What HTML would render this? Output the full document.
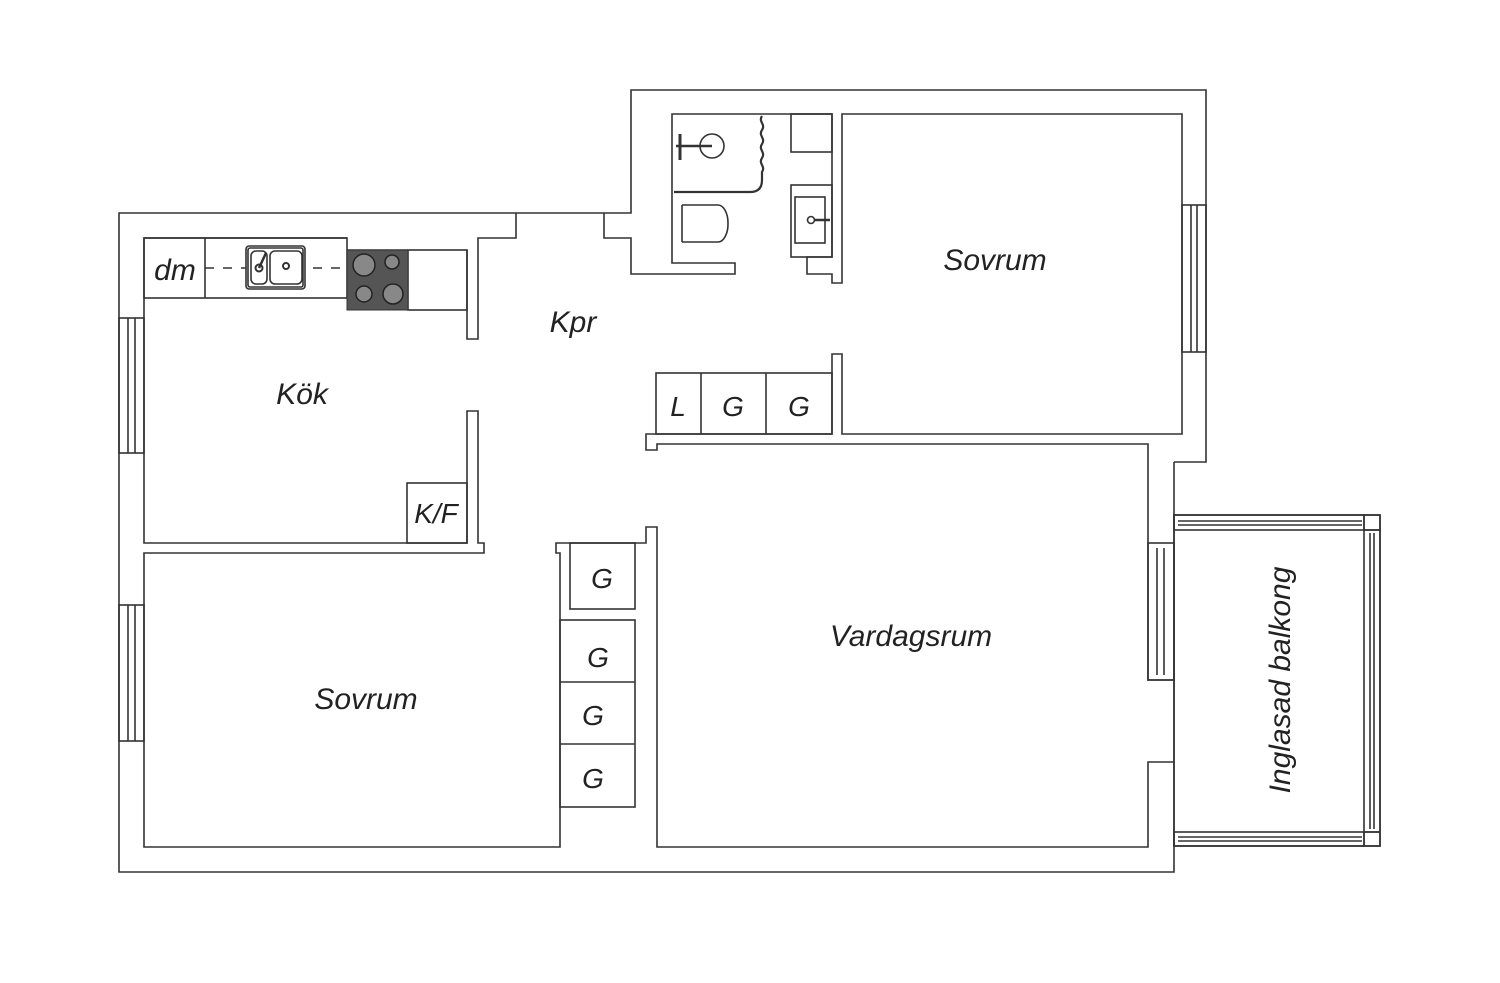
<!DOCTYPE html>
<html><head><meta charset="utf-8"><style>
html,body{margin:0;padding:0;background:#fff;}
svg{display:block}
text{font-family:"Liberation Sans",sans-serif;font-style:italic;fill:#222;}
</style></head><body>
<svg width="1500" height="983" viewBox="0 0 1500 983" xmlns="http://www.w3.org/2000/svg">
<g fill="none" stroke="#333" stroke-width="1.6">
<!-- outer -->
<path d="M604,213 H119 V872 H1174 V515 M1174,462 H1206 V90 H631 V213 H604 V238 H631 V274 H735 V263 H672 V114 H832 V257 H807 V274 H832 V283 H842 V114 H1182 V434 H842 V354 H832 V434 H646 V450 H657 V444 H1148 V680 H1174 M1174,462 V515"/>
<path d="M516,213 V238 H478 V339 H467 V250"/>
<path d="M1174,762 H1148 V847 H657 V527 H646 V543 H556 V553 H560 V847 H144 V553 H484 V543 H478 V411 H467 V543 H144 V238 H347"/>
<!-- windows -->
<rect x="119" y="318" width="25" height="135"/><line x1="128" y1="318" x2="128" y2="453"/><line x1="135" y1="318" x2="135" y2="453"/>
<rect x="119" y="605" width="25" height="136"/><line x1="128" y1="605" x2="128" y2="741"/><line x1="135" y1="605" x2="135" y2="741"/>
<rect x="1182" y="205" width="24" height="147"/><line x1="1191" y1="205" x2="1191" y2="352"/><line x1="1197" y1="205" x2="1197" y2="352"/>
<rect x="1148" y="543" width="26" height="137"/><line x1="1157" y1="548" x2="1157" y2="675"/><line x1="1164" y1="548" x2="1164" y2="675"/>
<!-- balcony -->
<rect x="1174" y="515" width="206" height="331"/>
<rect x="1174" y="515" width="190" height="15"/><line x1="1178" y1="521" x2="1362" y2="521"/><line x1="1178" y1="525" x2="1362" y2="525"/>
<rect x="1174" y="832" width="190" height="14"/><line x1="1178" y1="837" x2="1362" y2="837"/><line x1="1178" y1="841" x2="1362" y2="841"/>
<rect x="1364" y="515" width="16" height="15"/><rect x="1364" y="832" width="16" height="14"/>
<rect x="1364" y="530" width="16" height="302"/><line x1="1370" y1="533" x2="1370" y2="829"/><line x1="1374" y1="533" x2="1374" y2="829"/>
<!-- kitchen -->
<rect x="144" y="238" width="203" height="60"/><line x1="205" y1="238" x2="205" y2="298"/>
<rect x="408" y="250" width="59" height="60"/>
<line x1="347" y1="250" x2="408" y2="250"/>
<rect x="407" y="483" width="60" height="60"/>
<line x1="205" y1="268" x2="347" y2="268" stroke-dasharray="9,9"/>
<rect x="246" y="246" width="59" height="43" rx="3" fill="#fff"/><rect x="248" y="248" width="55" height="39" rx="2"/>
<rect x="251" y="251" width="16" height="33" rx="5"/><rect x="270" y="251" width="32" height="33" rx="5"/>
<circle cx="259" cy="268" r="3.5" stroke-width="2"/><circle cx="286" cy="266" r="3" stroke-width="2"/>
<line x1="259" y1="268" x2="266" y2="253" stroke-width="2.5"/>
<!-- closets -->
<rect x="656" y="373" width="176" height="61"/><line x1="701" y1="373" x2="701" y2="434"/><line x1="766" y1="373" x2="766" y2="434"/>
<rect x="570" y="543" width="65" height="66"/>
<rect x="560" y="620" width="75" height="187"/><line x1="560" y1="682" x2="635" y2="682"/><line x1="560" y1="744" x2="635" y2="744"/>
<!-- bathroom -->
<rect x="791" y="114" width="41" height="38"/>
<rect x="791" y="185" width="41" height="72"/><rect x="795" y="197" width="30" height="46"/>
<circle cx="811" cy="220" r="3.5"/><line x1="814" y1="220" x2="830" y2="220" stroke-width="2.5"/>
<path d="M682,205 H718 A10,18 0 0 1 728,223 A10,18 0 0 1 718,242 H682" />
<line x1="682" y1="205" x2="682" y2="242"/>
<circle cx="712" cy="146" r="12"/>
<line x1="676" y1="146" x2="712" y2="146" stroke-width="2.5"/>
<line x1="680" y1="134" x2="680" y2="160" stroke-width="3"/>
<path d="M762,116 c-4,6 4,8 0,14 c-4,6 4,8 0,14 c-4,6 4,8 0,14 c-4,6 4,8 0,14 V180 q0,12 -12,12 H674" stroke-width="2.2"/>
</g>
<!-- hob -->
<rect x="347" y="250" width="61" height="60" fill="#555" stroke="#333"/>
<g fill="#888" stroke="#222" stroke-width="1.5">
<circle cx="364" cy="265" r="11"/><circle cx="392" cy="262" r="7"/>
<circle cx="364" cy="294" r="8"/><circle cx="393" cy="294" r="10"/>
</g>
<g font-size="30">
<text x="995" y="270" text-anchor="middle">Sovrum</text>
<text x="573" y="332" text-anchor="middle">Kpr</text>
<text x="302" y="404" text-anchor="middle">Kök</text>
<text x="175" y="280" text-anchor="middle">dm</text>
<text x="366" y="709" text-anchor="middle">Sovrum</text>
<text x="911" y="646" text-anchor="middle">Vardagsrum</text>
<text transform="translate(1290,680) rotate(-90)" text-anchor="middle">Inglasad balkong</text>
</g>
<g font-size="28" text-anchor="middle">
<text x="436" y="523">K/F</text>
<text x="678" y="416">L</text>
<text x="733" y="416">G</text>
<text x="799" y="416">G</text>
<text x="602" y="588">G</text>
<text x="598" y="667">G</text>
<text x="593" y="725">G</text>
<text x="593" y="788">G</text>
</g>
</svg>
</body></html>
